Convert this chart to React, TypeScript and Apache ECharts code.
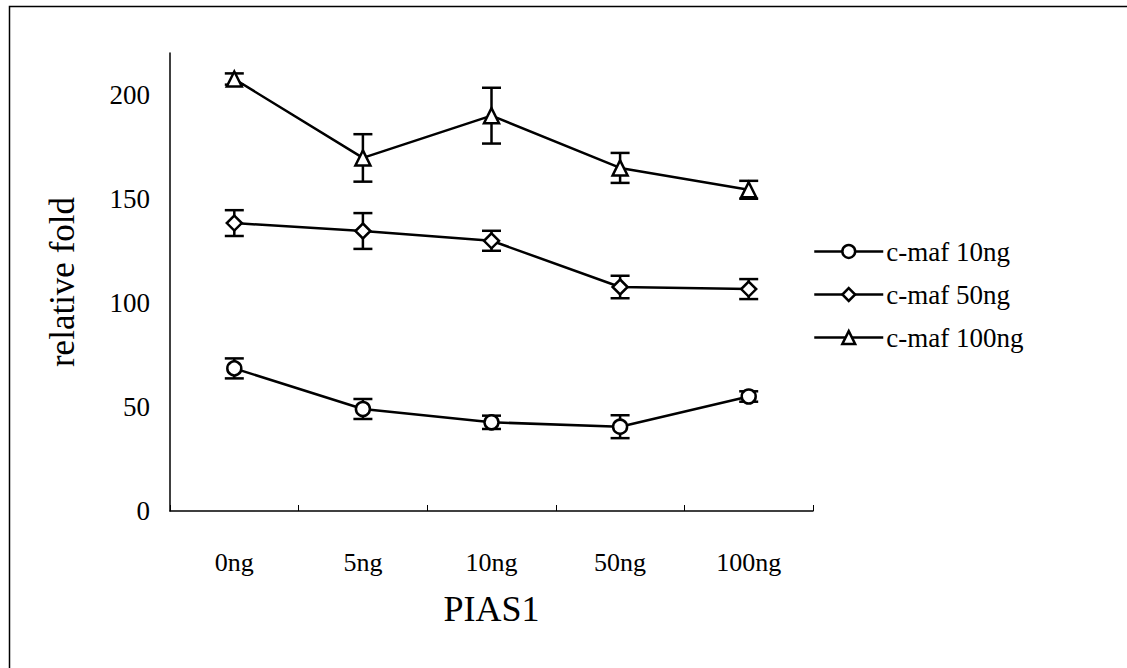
import React, { useEffect, useRef } from "react";
import * as echarts from "echarts";

const categories = ["0ng", "5ng", "10ng", "50ng", "100ng"];
const seriesNames = ["c-maf 10ng", "c-maf 50ng", "c-maf 100ng"];
const maf10 = [68.5, 49, 42.6, 40.5, 55];
const maf10Err = [4.8, 4.8, 3.2, 5.5, 2.5];
const maf50 = [138.3, 134.5, 129.8, 107.6, 106.6];
const maf50Err = [6.2, 8.6, 4.8, 5.4, 4.8];
const maf100 = [207.5, 169.6, 189.9, 164.8, 154.3];
const maf100Err = [2.7, 11.4, 13.4, 7.2, 4.3];
const yTicks = [0, 50, 100, 150, 200];

const FONT = '"Liberation Serif", "Times New Roman", serif';

function errData(vals: number[], errs: number[]) {
  return vals.map((v, i) => [i, v - errs[i], v + errs[i]]);
}

function errSeries(vals: number[], errs: number[]) {
  return {
    type: "custom",
    silent: true,
    z: 3,
    data: errData(vals, errs),
    renderItem: (params: any, api: any) => {
      const x = api.value(0);
      const lo = api.coord([x, api.value(1)]);
      const hi = api.coord([x, api.value(2)]);
      const hw = 9.5;
      const style = { stroke: "#000", lineWidth: 2.5 };
      return {
        type: "group",
        children: [
          { type: "line", shape: { x1: lo[0], y1: lo[1], x2: hi[0], y2: hi[1] }, style },
          { type: "line", shape: { x1: lo[0] - hw, y1: lo[1], x2: lo[0] + hw, y2: lo[1] }, style },
          { type: "line", shape: { x1: hi[0] - hw, y1: hi[1], x2: hi[0] + hw, y2: hi[1] }, style },
        ],
      };
    },
  };
}

function lineSeries(name: string, vals: number[], symbol: string, size: number) {
  return {
    type: "line",
    name,
    data: vals,
    symbol,
    symbolSize: size,
    showAllSymbol: true,
    z: 4,
    lineStyle: { color: "#000", width: 2.5 },
    itemStyle: { color: "#fff", borderColor: "#000", borderWidth: 2.5 },
  };
}

export default function App() {
  const ref = useRef<HTMLDivElement>(null);
  useEffect(() => {
    if (!ref.current) return;
    const chart = echarts.init(ref.current, undefined, { renderer: "svg" });
    chart.setOption({
      animation: false,
      backgroundColor: "#fff",
      textStyle: { fontFamily: FONT, color: "#000" },
      grid: { left: 170, right: 314, top: 53, bottom: 157, containLabel: false },
      graphic: [
        {
          type: "rect",
          left: 7,
          top: 4,
          shape: { width: 1200, height: 700 },
          style: { fill: "none", stroke: "#000", lineWidth: 1.5 },
          silent: true,
        },
      ],
      legend: {
        left: 808,
        top: 232,
        orient: "vertical",
        itemWidth: 69,
        itemHeight: 16,
        itemGap: 14,
        data: seriesNames,
        itemStyle: { borderWidth: 2.5 },
        lineStyle: { width: 2.5 },
        textStyle: { fontFamily: FONT, fontSize: 27, color: "#000", lineHeight: 29, padding: [0, 0, 0, -2] },
      },
      xAxis: {
        type: "category",
        data: categories,
        boundaryGap: true,
        name: "PIAS1",
        nameLocation: "middle",
        nameGap: 80,
        nameTextStyle: { fontFamily: FONT, fontSize: 36, color: "#000" },
        axisLine: { lineStyle: { color: "#000", width: 1.5 } },
        axisTick: { show: true, inside: true, length: 6, lineStyle: { color: "#000", width: 1 } },
        axisLabel: { margin: 38, fontFamily: FONT, fontSize: 26, color: "#000" },
        splitLine: { show: false },
      },
      yAxis: {
        type: "value",
        min: 0,
        max: 220,
        interval: 50,
        name: "relative fold",
        nameLocation: "middle",
        nameGap: 90,
        nameTextStyle: { fontFamily: FONT, fontSize: 35, color: "#000" },
        axisLine: { show: true, lineStyle: { color: "#000", width: 1.5 } },
        axisTick: { show: false },
        splitLine: { show: false },
        axisLabel: {
          margin: 20,
          fontFamily: FONT,
          fontSize: 27,
          color: "#000",
          showMaxLabel: false,
          formatter: (v: number) => (yTicks.includes(v) ? String(v) : ""),
        },
      },
      series: [
        errSeries(maf10, maf10Err),
        errSeries(maf50, maf50Err),
        errSeries(maf100, maf100Err),
        lineSeries(seriesNames[0], maf10, "circle", 14),
        lineSeries(seriesNames[1], maf50, "diamond", 15),
        lineSeries(seriesNames[2], maf100, "triangle", 15),
      ],
    });
    return () => chart.dispose();
  }, []);
  return (
    <div
      ref={ref}
      style={{ position: "fixed", left: 0, top: 0, width: 1127, height: 668, background: "#fff" }}
    />
  );
}
